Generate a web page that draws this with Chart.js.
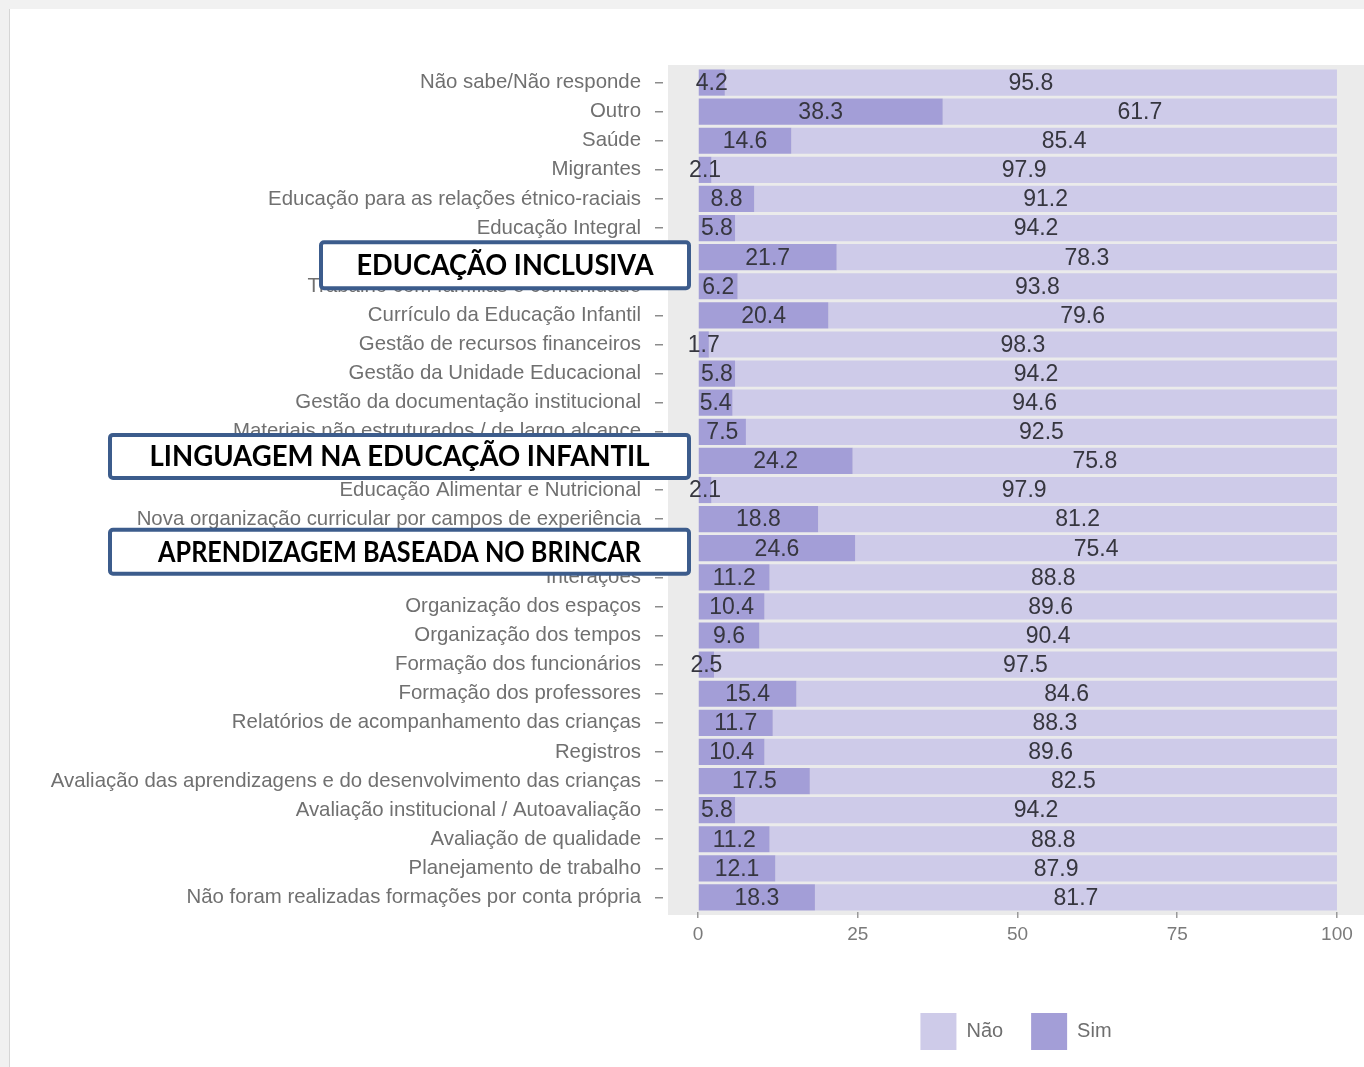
<!DOCTYPE html>
<html>
<head>
<meta charset="utf-8">
<script src="https://cdn.jsdelivr.net/npm/chart.js@4"></script>
<style>
  html, body { margin: 0; padding: 0; background: #f1f1f1; }
  #paper { position: absolute; left: 9px; top: 9px; width: 1355px; height: 1058px; background: #ffffff; border-left: 1px solid #d6d6d6; }
  #wrap { position: absolute; left: 0; top: 0; width: 1364px; height: 1067px; }
</style>
</head>
<body>
<div id="paper"></div>
<div id="wrap"><canvas id="c" width="1364" height="1067"></canvas></div>
<script>
const categories = [
  "Não sabe/Não responde",
  "Outro",
  "Saúde",
  "Migrantes",
  "Educação para as relações étnico-raciais",
  "Educação Integral",
  "Educação Inclusiva",
  "Trabalho com famílias e comunidade",
  "Currículo da Educação Infantil",
  "Gestão de recursos financeiros",
  "Gestão da Unidade Educacional",
  "Gestão da documentação institucional",
  "Materiais não estruturados / de largo alcance",
  "Linguagem na Educação Infantil",
  "Educação Alimentar e Nutricional",
  "Nova organização curricular por campos de experiência",
  "Aprendizagem baseada no brincar",
  "Interações",
  "Organização dos espaços",
  "Organização dos tempos",
  "Formação dos funcionários",
  "Formação dos professores",
  "Relatórios de acompanhamento das crianças",
  "Registros",
  "Avaliação das aprendizagens e do desenvolvimento das crianças",
  "Avaliação institucional / Autoavaliação",
  "Avaliação de qualidade",
  "Planejamento de trabalho",
  "Não foram realizadas formações por conta própria"
];
const simValues = [4.2, 38.3, 14.6, 2.1, 8.8, 5.8, 21.7, 6.2, 20.4, 1.7, 5.8, 5.4, 7.5, 24.2, 2.1, 18.8, 24.6, 11.2, 10.4, 9.6, 2.5, 15.4, 11.7, 10.4, 17.5, 5.8, 11.2, 12.1, 18.3];
const naoValues = [95.8, 61.7, 85.4, 97.9, 91.2, 94.2, 78.3, 93.8, 79.6, 98.3, 94.2, 94.6, 92.5, 75.8, 97.9, 81.2, 75.4, 88.8, 89.6, 90.4, 97.5, 84.6, 88.3, 89.6, 82.5, 94.2, 88.8, 87.9, 81.7];
const xTickValues = [0, 25, 50, 75, 100];
const seriesNames = ["Sim", "Não"];
const highlightIndex = [6, 13, 16];
const highlightText = ["EDUCAÇÃO INCLUSIVA", "LINGUAGEM NA EDUCAÇÃO INFANTIL", "APRENDIZAGEM BASEADA NO BRINCAR"];

// annotation box layout (pixels)
const calloutStyle = [
  { left: 321, right: 689, dy: 8, h: 46, textW: 297 },
  { left: 110, right: 689, dy: -4.5, h: 43, textW: 500 },
  { left: 110, right: 689, dy: 3.5, h: 44, textW: 483 }
];

const SIM_COLOR = '#a39ed7';
const NAO_COLOR = '#cecbe9';

const panelBg = {
  id: 'panelBg',
  beforeDraw(chart) {
    const { ctx, chartArea: a } = chart;
    ctx.save();
    ctx.fillStyle = '#ebebeb';
    ctx.fillRect(a.left, a.top - 3, a.right - a.left, a.bottom - a.top + 6);
    ctx.restore();
  }
};

const valueLabels = {
  id: 'valueLabels',
  afterDatasetsDraw(chart) {
    const { ctx } = chart;
    ctx.save();
    ctx.font = '23px "Liberation Sans", Arial, sans-serif';
    ctx.fillStyle = '#36363f';
    ctx.textAlign = 'center';
    ctx.textBaseline = 'middle';
    chart.data.datasets.forEach((ds, di) => {
      const meta = chart.getDatasetMeta(di);
      meta.data.forEach((el, i) => {
        const p = el.getProps(['x', 'y', 'base'], true);
        ctx.fillText(ds.data[i].toFixed(1), (p.x + p.base) / 2, p.y + 1);
      });
    });
    ctx.restore();
  }
};

const callouts = {
  id: 'callouts',
  afterDraw(chart) {
    const { ctx } = chart;
    const yScale = chart.scales.y;
    ctx.save();
    highlightIndex.forEach((idx, k) => {
      const s = calloutStyle[k];
      const cy = yScale.getPixelForValue(idx) + s.dy;
      const top = cy - s.h / 2;
      ctx.beginPath();
      ctx.roundRect(s.left, top, s.right - s.left, s.h, 3);
      ctx.fillStyle = '#ffffff';
      ctx.fill();
      ctx.lineWidth = 4;
      ctx.strokeStyle = '#3c5c8c';
      ctx.stroke();
      ctx.fillStyle = '#000000';
      ctx.font = 'bold 28px Lato, "Open Sans", sans-serif';
      ctx.textAlign = 'center';
      ctx.textBaseline = 'middle';
      ctx.fillText(highlightText[k], (s.left + s.right) / 2, cy + 1, s.textW);
    });
    ctx.restore();
  }
};

new Chart(document.getElementById('c'), {
  type: 'bar',
  data: {
    labels: categories,
    datasets: [
      { label: seriesNames[0], data: simValues, backgroundColor: SIM_COLOR, borderWidth: 0, barPercentage: 0.9, categoryPercentage: 1.0 },
      { label: seriesNames[1], data: naoValues, backgroundColor: NAO_COLOR, borderWidth: 0, barPercentage: 0.9, categoryPercentage: 1.0 }
    ]
  },
  options: {
    indexAxis: 'y',
    responsive: false,
    animation: false,
    devicePixelRatio: 1,
    layout: { padding: { top: 68, bottom: 7, left: 0, right: 0 } },
    scales: {
      x: {
        type: 'linear',
        stacked: true,
        min: -4.695,
        max: 104.23,
        afterBuildTicks(scale) { scale.ticks = xTickValues.map(v => ({ value: v })); },
        afterFit(scale) { scale.height = 73; },
        grid: { drawOnChartArea: false, drawTicks: true, tickLength: 6, color: '#9a9a9a', lineWidth: 1.5 },
        border: { display: false },
        ticks: { font: { size: 19, family: '"Liberation Sans", Arial, sans-serif' }, color: '#7a7a7a', padding: 5, includeBounds: false }
      },
      y: {
        stacked: true,
        afterFit(scale) { scale.width = 668; },
        grid: { drawOnChartArea: false, drawTicks: true, tickLength: 13, tickBorderDash: [8, 40], color: '#8c8c8c', lineWidth: 1.5, offset: false },
        border: { display: false },
        ticks: { autoSkip: false, font: { size: 20.4, family: '"Liberation Sans", Arial, sans-serif' }, color: '#707070', padding: 14 }
      }
    },
    plugins: {
      legend: {
        position: 'bottom',
        fullSize: false,
        reverse: true,
        labels: { boxWidth: 36, boxHeight: 37, padding: 28, color: '#6e6e6e', font: { size: 20, family: '"Liberation Sans", Arial, sans-serif' } }
      },
      tooltip: { enabled: false }
    }
  },
  plugins: [panelBg, valueLabels, callouts]
});
</script>
</body>
</html>
